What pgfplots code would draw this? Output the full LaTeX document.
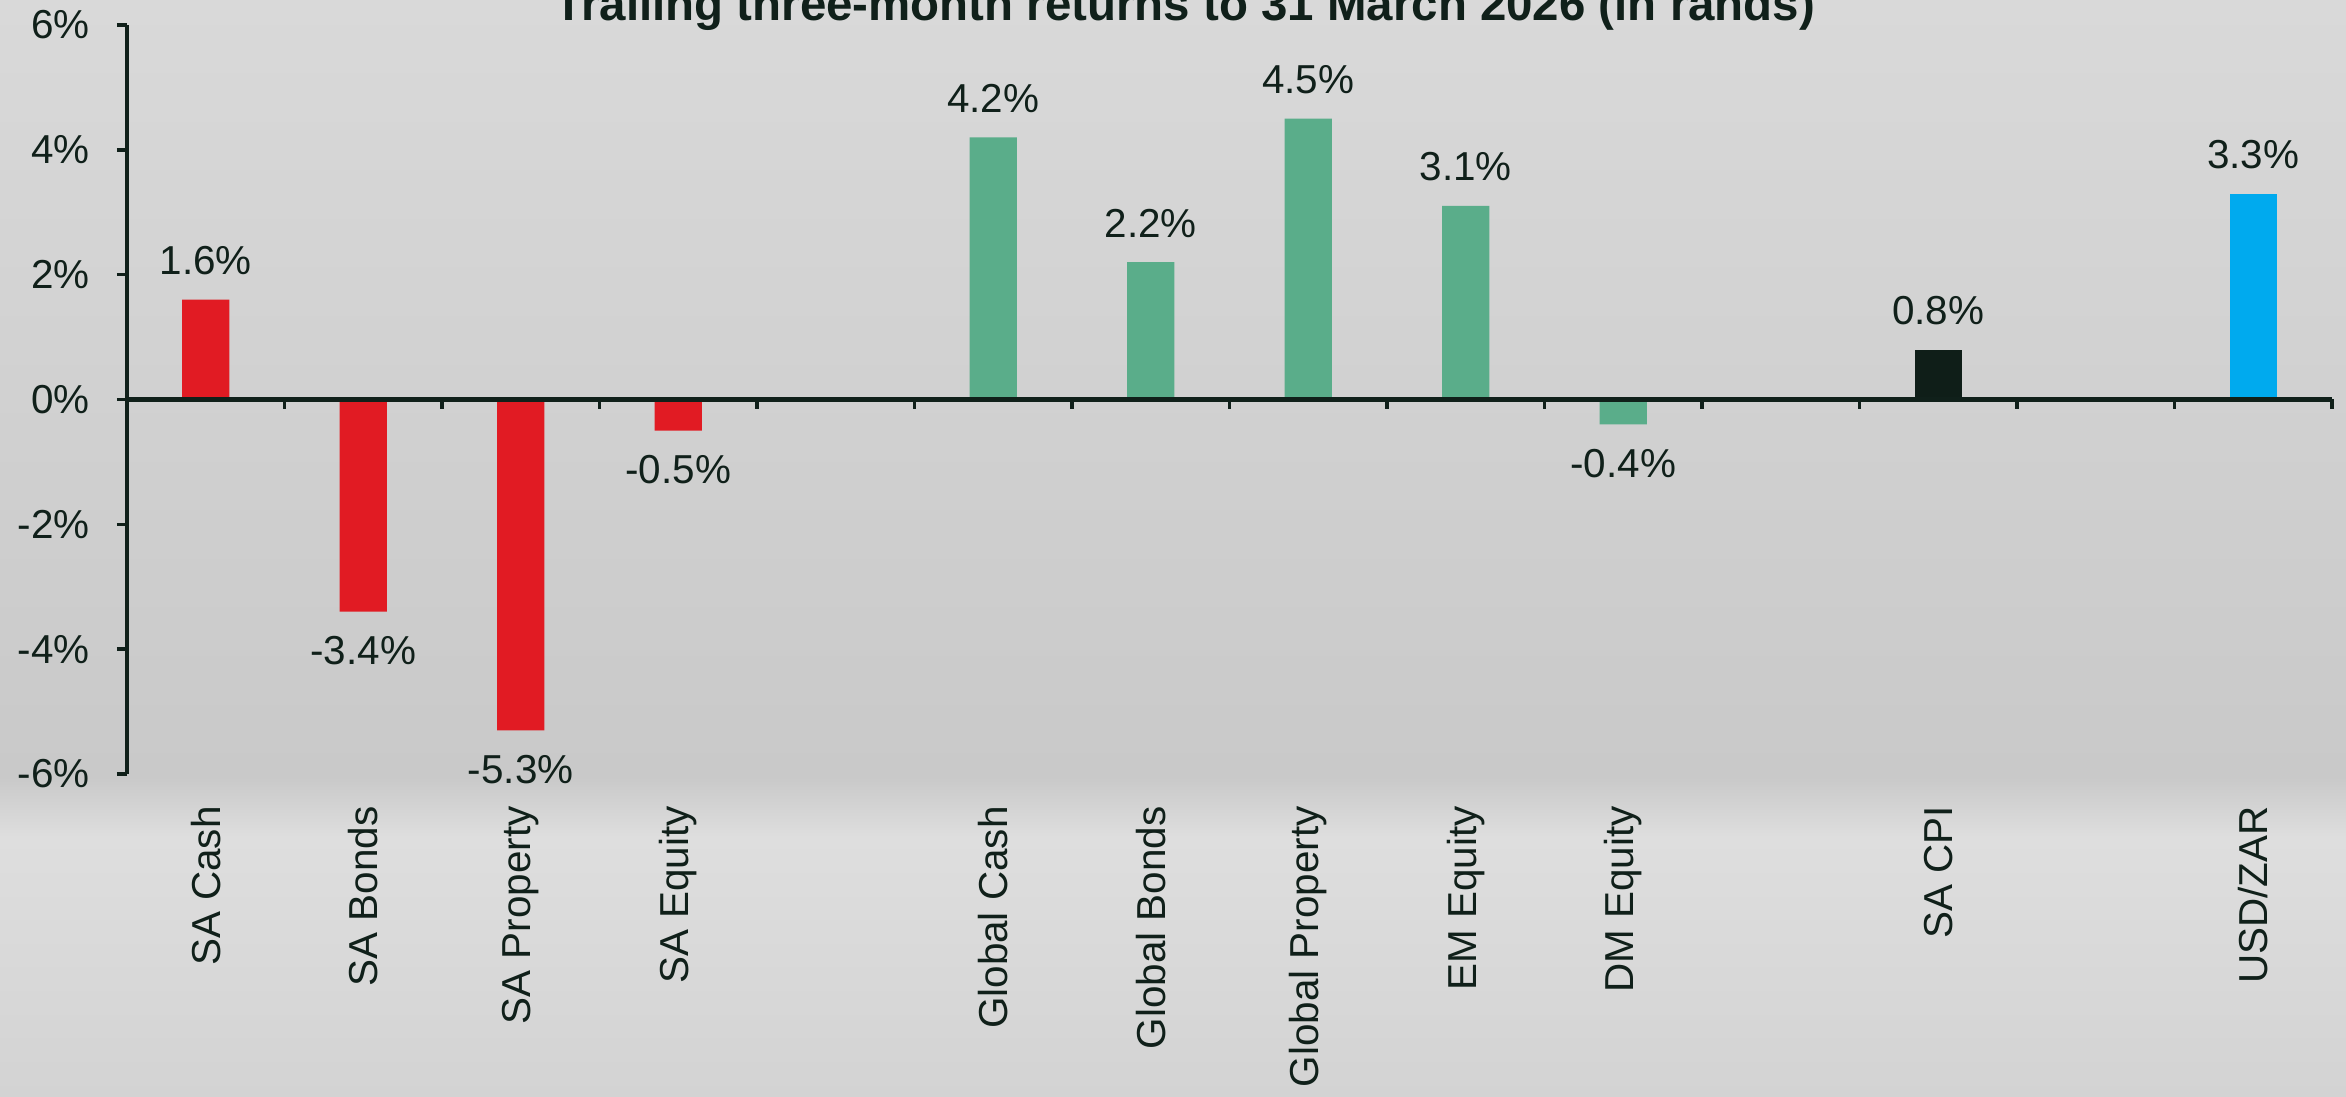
\documentclass[border=0pt]{standalone}
\usepackage{pgfplots}
\pgfplotsset{compat=1.18}
\usepackage{fontspec}
\setmainfont{Liberation Sans}

\definecolor{sared}{HTML}{E11B23}
\definecolor{glgreen}{HTML}{5AAD8A}
\definecolor{cpiblack}{HTML}{0F1E18}
\definecolor{usdblue}{HTML}{00AAEE}
\definecolor{ink}{HTML}{10201A}
\definecolor{bgtop}{HTML}{D9D9D9}
\definecolor{bgmid}{HTML}{C9C9C9}
\definecolor{bgband}{HTML}{DEDEDE}
\definecolor{bgbot}{HTML}{D3D3D3}

\begin{document}
\begin{tikzpicture}
% background
\shade[top color=bgtop, bottom color=bgmid] (0,3.2) rectangle (23.46,10.97);
\shade[top color=bgmid, bottom color=bgband] (0,2.6) rectangle (23.46,3.2);
\shade[top color=bgband, bottom color=bgbot] (0,0) rectangle (23.46,2.6);

\begin{axis}[
    at={(1.27cm,3.23cm)}, anchor=south west,
    width=22.05cm, height=7.49cm, scale only axis,
    ybar, bar width=0.3,
    xmin=-0.5, xmax=13.5,
    ymin=-6, ymax=6,
    axis y line*=left,
    axis x line*=bottom,
    x axis line style={draw=none},
    y axis line style={line width=1.2pt, color=ink},
    xtick={0,1,2,3,5,6,7,8,9,11,13},
    xticklabels={SA Cash,SA Bonds,SA Property,SA Equity,Global Cash,Global Bonds,Global Property,EM Equity,DM Equity,SA CPI,USD/ZAR},
    xtick style={draw=none},
    ytick={-6,-4,...,6},
    yticklabel={\pgfmathprintnumber{\tick}\%},
    /pgf/number format/assume math mode=true,
    tick align=outside,
    major tick length=0.1cm,
    ytick style={line width=1pt, color=ink},
    yticklabel style={font=\fontsize{11.5}{13}\selectfont, text=ink, xshift=-0.15cm},
    % rotated labels: local xshift moves them down the page
    xticklabel style={font=\fontsize{11.5}{13}\selectfont, text=ink, rotate=90, anchor=east, xshift=-0.1cm},
    nodes near coords={\pgfmathprintnumber[fixed,fixed zerofill,precision=1]{\pgfplotspointmeta}\%},
    nodes near coords style={font=\fontsize{11.5}{13}\selectfont, text=ink, inner ysep=0.24cm},
    clip=false,
]
\addplot[fill=sared, draw=none, bar shift=0pt] coordinates {(0,1.6) (1,-3.4) (2,-5.3) (3,-0.5)};
\addplot[fill=glgreen, draw=none, bar shift=0pt] coordinates {(5,4.2) (6,2.2) (7,4.5) (8,3.1) (9,-0.4)};
\addplot[fill=cpiblack, draw=none, bar shift=0pt] coordinates {(11,0.8)};
\addplot[fill=usdblue, draw=none, bar shift=0pt] coordinates {(13,3.3)};

% zero line with category separators
\draw[line width=1.3pt, ink] (axis cs:-0.5,0) -- (axis cs:13.5,0);
\pgfplotsinvokeforeach{0.5,1.5,...,13.5}{
  \draw[line width=1pt, ink] (axis cs:#1,0) -- ([yshift=-0.1cm]axis cs:#1,0);
}
\end{axis}

\node[anchor=base, font=\fontsize{13.5}{16}\selectfont\bfseries, text=ink] at (11.85,10.76)
  {Trailing three-month returns to 31 March 2026 (in rands)};

\pgfresetboundingbox
\path (0,0) rectangle (23.46,10.97);
\end{tikzpicture}
\end{document}
